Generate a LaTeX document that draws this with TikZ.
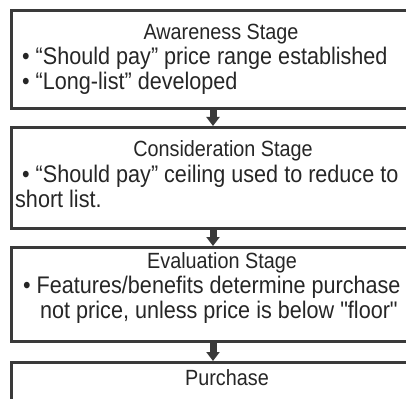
\documentclass[tikz,border=0pt]{standalone}
\usepackage{fontspec}
\setmainfont{Liberation Sans}[FakeStretch=0.9, Ligatures=TeXOff]
\usetikzlibrary{arrows.meta}
\definecolor{linegray}{HTML}{3A3A3A}
\definecolor{ink}{HTML}{262626}
\begin{document}
\begin{tikzpicture}[x=1pt,y=-1pt,
  stage/.style={draw=linegray, line width=2.6pt, rectangle, anchor=north west,
                inner sep=0pt, minimum width=424pt},
  head/.style={anchor=base, inner sep=0pt, text=ink,
               font=\fontsize{22}{26}\selectfont},
  body/.style={anchor=base west, inner sep=0pt, text=ink,
               font=\fontsize{24}{27}\selectfont},
  flow/.style={draw=linegray, line width=7pt,
               -{Triangle[width=13pt,length=9pt]}}]
\clip (0,0) rectangle (406,398);
\fill[white] (0,0) rectangle (406,398);

% stage boxes (they run on past the right edge)
\node[stage, minimum height=98pt]  (s1) at (10,9)   {};
\node[stage, minimum height=101pt] (s2) at (10,126) {};
\node[stage, minimum height=94pt]  (s3) at (10,246) {};
\node[stage, minimum height=70pt]  (s4) at (10,361) {};

% column the connectors run down
\coordinate (ax) at (213,0);
\draw[flow] (s1.south -| ax) -- (s2.north -| ax);
\draw[flow] (s2.south -| ax) -- (s3.north -| ax);
\draw[flow] (s3.south -| ax) -- (s4.north -| ax);

% Awareness
\node[head] (h1) at (221,40) {Awareness Stage};
\node[body] (t1a) at (22,65) {• “Should pay” price range established};
\node[body] (t1b) at (22,90) {• “Long-list” developed};

% Consideration
\node[head] (h2) at (223,157) {Consideration Stage};
\node[body] (t2a) at (22,182) {• “Should pay” ceiling used to reduce to};
\node[body] (t2b) at (15,207) {short list.};

% Evaluation
\node[head] (h3) at (222,268) {Evaluation Stage};
\node[body] (t3a) at (23,293) {• Features/benefits determine purchase};
\node[body] (t3b) at (40,318) {not price, unless price is below "floor"};

% Purchase
\node[head] (h4) at (227,385) {Purchase};
\end{tikzpicture}
\end{document}
